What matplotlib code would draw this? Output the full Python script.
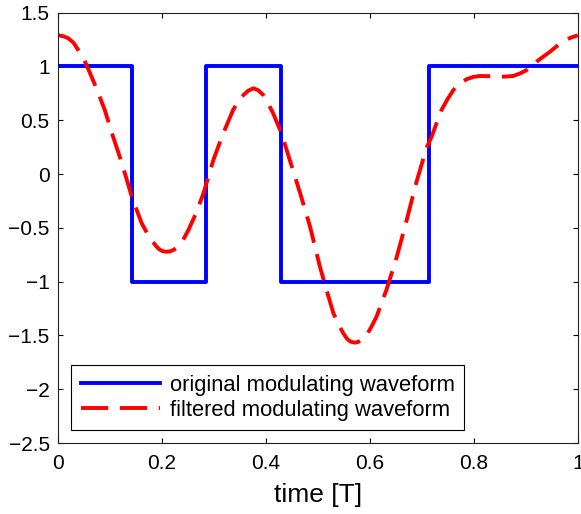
import numpy as np
import matplotlib
matplotlib.use("Agg")
from matplotlib import pyplot as plt

# bit sequence of the original modulating waveform (7 symbols over one period T)
bits = [1, -1, 1, -1, -1, 1, 1]
bit_edges = [0, 1/7, 2/7, 3/7, 4/7, 5/7, 6/7, 1]

# filtered waveform
t_filt = [0.000, 0.010, 0.020, 0.030, 0.039, 0.047, 0.055, 0.074, 0.090, 0.106,
          0.123, 0.142, 0.161, 0.171, 0.180, 0.188, 0.195, 0.202, 0.209, 0.216,
          0.223, 0.231, 0.241, 0.251, 0.266, 0.280, 0.299, 0.318, 0.337, 0.347,
          0.357, 0.366, 0.376, 0.385, 0.395, 0.404, 0.414, 0.430, 0.446, 0.466,
          0.485, 0.504, 0.520, 0.530, 0.540, 0.549, 0.556, 0.563, 0.571, 0.578,
          0.586, 0.594, 0.603, 0.613, 0.632, 0.652, 0.671, 0.690, 0.709, 0.719,
          0.729, 0.738, 0.750, 0.761, 0.773, 0.786, 0.799, 0.812, 0.828, 0.844,
          0.860, 0.876, 0.889, 0.902, 0.912, 0.921, 0.934, 0.947, 0.960, 0.972,
          0.985, 1.000]
v_filt = [1.290, 1.282, 1.262, 1.220, 1.153, 1.090, 1.014, 0.797, 0.596, 0.348,
          0.100, -0.210, -0.457, -0.545, -0.612, -0.665, -0.700, -0.718, -0.722, -0.718,
          -0.703, -0.675, -0.610, -0.520, -0.360, -0.178, 0.131, 0.379, 0.596, 0.680,
          0.735, 0.775, 0.797, 0.780, 0.735, 0.660, 0.565, 0.379, 0.131, -0.178,
          -0.489, -0.861, -1.130, -1.294, -1.400, -1.480, -1.530, -1.558, -1.567, -1.560,
          -1.535, -1.495, -1.420, -1.325, -1.077, -0.768, -0.427, -0.070, 0.240, 0.348,
          0.480, 0.596, 0.700, 0.782, 0.840, 0.881, 0.903, 0.912, 0.910, 0.905,
          0.906, 0.912, 0.935, 0.967, 1.005, 1.045, 1.092, 1.138, 1.190, 1.230,
          1.265, 1.290]

x_ticks = [0, 0.2, 0.4, 0.6, 0.8, 1]
x_labels = ["0", "0.2", "0.4", "0.6", "0.8", "1"]
y_ticks = [-2.5, -2, -1.5, -1, -0.5, 0, 0.5, 1, 1.5]
y_labels = ["\u22122.5", "\u22122", "\u22121.5", "\u22121", "\u22120.5", "0", "0.5", "1", "1.5"]

plt.rcParams['font.family'] = ['Liberation Sans', 'DejaVu Sans']

fig = plt.figure(figsize=(5.81, 5.14), dpi=100)
ax = fig.add_axes([0.0998, 0.1381, 0.8945, 0.8372])

ax.plot(bit_edges, bits + [bits[-1]], drawstyle='steps-post', color='#0000ff',
        lw=2.8, label='original modulating waveform')
ax.plot(t_filt, v_filt, color='#ff0000', lw=2.8, dashes=(7, 3),
        label='filtered modulating waveform')

ax.set_xlim(0, 1)
ax.set_ylim(-2.5, 1.5)
ax.set_xticks(x_ticks)
ax.set_xticklabels(x_labels)
ax.set_yticks(y_ticks)
ax.set_yticklabels(y_labels)
ax.tick_params(direction='in', length=3.5, width=0.8, labelsize=15,
               top=True, right=True, pad=8)
ax.tick_params(axis='y', pad=6)
for s in ax.spines.values():
    s.set_linewidth(0.8)
    s.set_color('#222222')
ax.set_xlabel('time [T]', fontsize=19, labelpad=7)

leg = ax.legend(loc='lower left', bbox_to_anchor=(0.026, 0.030), borderaxespad=0,
                fontsize=15.8, handlelength=3.6, handletextpad=0.45,
                labelspacing=0.2, fancybox=False, framealpha=1,
                borderpad=0.42)
leg.get_frame().set_edgecolor('black')
leg.get_frame().set_linewidth(0.8)

plt.savefig('out.png', dpi=100)
